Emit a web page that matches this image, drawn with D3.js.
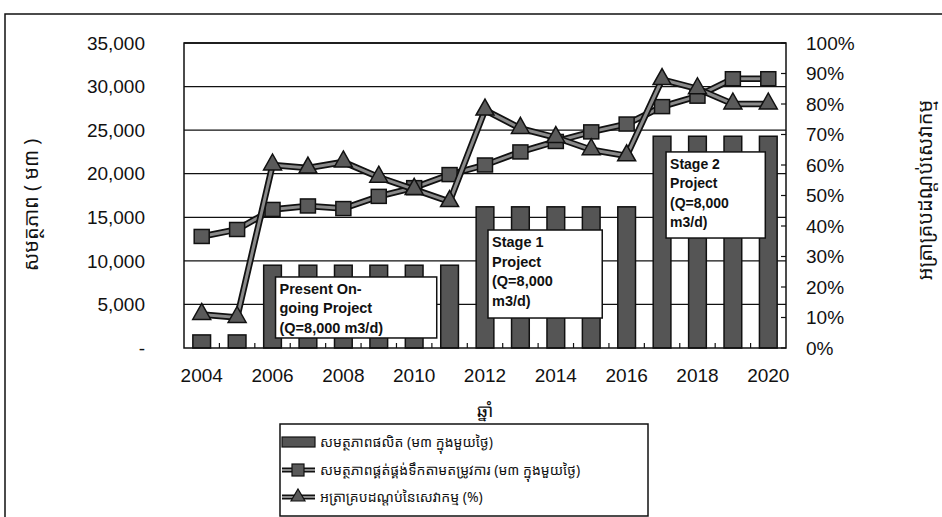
<!DOCTYPE html>
<html>
<head>
<meta charset="utf-8">
<script src="https://cdn.jsdelivr.net/npm/d3@7"></script>
<style>
  body { margin: 0; background: #fff; }
  svg { display: block; }
</style>
</head>
<body>
<div id="chart"></div>
<script>
const years = [2004, 2005, 2006, 2007, 2008, 2009, 2010, 2011, 2012, 2013, 2014, 2015, 2016, 2017, 2018, 2019, 2020];
const capacity = [1500, 1500, 9500, 9500, 9500, 9500, 9500, 9500, 16200, 16200, 16200, 16200, 16200, 24300, 24300, 24300, 24300];
const demand = [12800, 13600, 15900, 16300, 16000, 17400, 18400, 19900, 21000, 22500, 23700, 24800, 25700, 27700, 28900, 30900, 30900];
const coverage = [11, 10, 60, 59, 61, 56, 52, 48, 78, 72, 69, 65, 63, 88, 85, 80, 80];
const yearTicks = [2004, 2006, 2008, 2010, 2012, 2014, 2016, 2018, 2020];
const leftTicks = [0, 5000, 10000, 15000, 20000, 25000, 30000, 35000];
const rightTicks = [0, 10, 20, 30, 40, 50, 60, 70, 80, 90, 100];
const noteTexts = [
  ["Present On-", "going Project", "(Q=8,000 m3/d)"],
  ["Stage 1", "Project", "(Q=8,000", "m3/d)"],
  ["Stage 2", "Project", "(Q=8,000", "m3/d)"]
];
const legendLabels = [
  "សមត្ថភាពផលិត (ម៣ ក្នុងមួយថ្ងៃ)",
  "សមត្ថភាពផ្គត់ផ្គង់ទឹកតាមតម្រូវការ (ម៣ ក្នុងមួយថ្ងៃ)",
  "អត្រាគ្របដណ្តប់នៃសេវាកម្ម (%)"
];
const leftTitle = "សមត្ថភាព ( ម៣ )";
const rightTitle = "អត្រាគ្របដណ្តប់សេវាកម្ម";
const xTitle = "ឆ្នាំ";

const width = 942, height = 517;
const plot = {left: 184, right: 786, top: 43, bottom: 348};
const latin = "Liberation Sans, Arial, sans-serif";
const khmer = "'Noto Sans Khmer', 'Khmer OS', 'Noto Sans', sans-serif";

const svg = d3.select("#chart").append("svg")
  .attr("width", width).attr("height", height);

// outer frame
svg.append("rect")
  .attr("x", 5).attr("y", 14).attr("width", 960).attr("height", 540)
  .attr("fill", "none").attr("stroke", "#111").attr("stroke-width", 1.5);

const x = d3.scaleBand().domain(years)
  .range([plot.left, plot.right]).paddingInner(0.5).paddingOuter(0.25);
const y = d3.scaleLinear().domain([0, 35000]).range([plot.bottom, plot.top]);
const y2 = d3.scaleLinear().domain([0, 100]).range([plot.bottom, plot.top]);
const cx = d => x(d) + x.bandwidth() / 2;

// gridlines
svg.append("g").selectAll("line").data(leftTicks.slice(1)).join("line")
  .attr("x1", plot.left).attr("x2", plot.right)
  .attr("y1", d => y(d)).attr("y2", d => y(d))
  .attr("stroke", "#111").attr("stroke-width", 1.3);

// bars
svg.append("g").selectAll("rect").data(years).join("rect")
  .attr("x", d => x(d))
  .attr("y", (d, i) => y(capacity[i]))
  .attr("width", x.bandwidth())
  .attr("height", (d, i) => y(0) - y(capacity[i]))
  .attr("fill", "#555").attr("stroke", "#111").attr("stroke-width", 1.5);

// annotation boxes
const notes = [
  {x0: cx(2006) + 3, x1: x(2011) - 4, top: 8150, bottom: 1150, size: 14.5},
  {x0: cx(2012) + 3, x1: cx(2015) + 11, top: 13540, bottom: 3440, size: 14.5},
  {x0: cx(2017) + 4, x1: cx(2020) - 3, top: 22500, bottom: 12620, size: 14}
];
notes.forEach((n, k) => {
  const g = svg.append("g");
  g.append("rect")
    .attr("x", n.x0).attr("y", y(n.top))
    .attr("width", n.x1 - n.x0).attr("height", y(n.bottom) - y(n.top))
    .attr("fill", "#fff").attr("stroke", "#111").attr("stroke-width", 1.5);
  g.selectAll("text").data(noteTexts[k]).join("text")
    .attr("x", n.x0 + 4)
    .attr("y", (d, i) => y(n.top) + 17 + i * 19.5)
    .attr("font-family", latin).attr("font-weight", "bold")
    .attr("font-size", n.size).attr("fill", "#111")
    .text(d => d);
});

// plot border
svg.append("rect")
  .attr("x", plot.left).attr("y", plot.top)
  .attr("width", plot.right - plot.left).attr("height", plot.bottom - plot.top)
  .attr("fill", "none").attr("stroke", "#111").attr("stroke-width", 1.5);

// small ticks: x band boundaries and right axis
svg.append("g").selectAll("line").data(years.slice(1)).join("line")
  .attr("x1", d => x(d) - x.step() * x.paddingInner() / 2)
  .attr("x2", d => x(d) - x.step() * x.paddingInner() / 2)
  .attr("y1", plot.bottom).attr("y2", plot.bottom - 5)
  .attr("stroke", "#111").attr("stroke-width", 1.2);
svg.append("g").selectAll("line").data(rightTicks).join("line")
  .attr("x1", plot.right - 5).attr("x2", plot.right)
  .attr("y1", d => y2(d)).attr("y2", d => y2(d))
  .attr("stroke", "#111").attr("stroke-width", 1.2);

// lines with outlined grey stroke
function drawSeries(values, scale, marker) {
  const line = d3.line().x((d, i) => cx(years[i])).y(d => scale(d));
  svg.append("path").datum(values).attr("d", line)
    .attr("fill", "none").attr("stroke", "#111").attr("stroke-width", 6.5);
  svg.append("path").datum(values).attr("d", line)
    .attr("fill", "none").attr("stroke", "#8a8a8a").attr("stroke-width", 3);
  const g = svg.append("g");
  values.forEach((v, i) => {
    const px = cx(years[i]), py = scale(v);
    if (marker === "square") {
      g.append("rect").attr("x", px - 7.5).attr("y", py - 7).attr("width", 15).attr("height", 14)
        .attr("fill", "#5a5a5a").attr("stroke", "#111").attr("stroke-width", 1.5);
    } else {
      g.append("path").attr("d", `M${px},${py - 11}L${px + 9},${py + 5}L${px - 9},${py + 5}Z`)
        .attr("fill", "#5a5a5a").attr("stroke", "#111").attr("stroke-width", 1.5);
    }
  });
}
drawSeries(demand, y, "square");
drawSeries(coverage, y2, "triangle");

// left axis labels
svg.append("g").selectAll("text").data(leftTicks).join("text")
  .attr("x", 145).attr("y", d => y(d)).attr("dy", "0.35em")
  .attr("text-anchor", "end").attr("font-family", latin).attr("font-size", 19)
  .attr("fill", "#111")
  .text(d => d === 0 ? "-" : d3.format(",")(d));

// right axis labels
svg.append("g").selectAll("text").data(rightTicks).join("text")
  .attr("x", 806).attr("y", d => y2(d)).attr("dy", "0.35em")
  .attr("font-family", latin).attr("font-size", 19).attr("fill", "#111")
  .text(d => d + "%");

// x axis labels
svg.append("g").selectAll("text").data(yearTicks).join("text")
  .attr("x", d => cx(d)).attr("y", 382)
  .attr("text-anchor", "middle").attr("font-family", latin).attr("font-size", 19)
  .attr("fill", "#111")
  .text(d => d);

// axis titles
svg.append("text")
  .attr("transform", "translate(38,205) rotate(-90)")
  .attr("text-anchor", "middle").attr("font-family", khmer).attr("font-size", 20)
  .attr("fill", "#111").text(leftTitle);
svg.append("text")
  .attr("transform", "translate(932,190) rotate(-90)")
  .attr("text-anchor", "middle").attr("font-family", khmer).attr("font-size", 20)
  .attr("fill", "#111").text(rightTitle);
svg.append("text")
  .attr("x", (plot.left + plot.right) / 2).attr("y", 417)
  .attr("text-anchor", "middle").attr("font-family", khmer).attr("font-size", 18)
  .attr("fill", "#111").text(xTitle);

// legend
const legend = svg.append("g");
legend.append("rect")
  .attr("x", 280).attr("y", 424).attr("width", 368).attr("height", 92)
  .attr("fill", "#fff").attr("stroke", "#111").attr("stroke-width", 1.5);
const rowY = [442, 470, 497];
legend.append("rect")
  .attr("x", 282).attr("y", rowY[0] - 5).attr("width", 33).attr("height", 10)
  .attr("fill", "#555").attr("stroke", "#111").attr("stroke-width", 1.2);
[1, 2].forEach(r => {
  legend.append("line").attr("x1", 282).attr("x2", 315).attr("y1", rowY[r]).attr("y2", rowY[r])
    .attr("stroke", "#111").attr("stroke-width", 5);
  legend.append("line").attr("x1", 282).attr("x2", 315).attr("y1", rowY[r]).attr("y2", rowY[r])
    .attr("stroke", "#8a8a8a").attr("stroke-width", 2.2);
});
legend.append("rect").attr("x", 292).attr("y", rowY[1] - 6).attr("width", 12).attr("height", 12)
  .attr("fill", "#5a5a5a").attr("stroke", "#111").attr("stroke-width", 1.2);
legend.append("path").attr("d", `M298,${rowY[2] - 8}L305,${rowY[2] + 4}L291,${rowY[2] + 4}Z`)
  .attr("fill", "#5a5a5a").attr("stroke", "#111").attr("stroke-width", 1.2);
legend.selectAll("text.lab").data(legendLabels).join("text")
  .attr("class", "lab")
  .attr("x", 320).attr("y", (d, i) => rowY[i]).attr("dy", "0.35em")
  .attr("font-family", khmer).attr("font-size", 14).attr("fill", "#111")
  .text(d => d);
</script>
</body>
</html>
